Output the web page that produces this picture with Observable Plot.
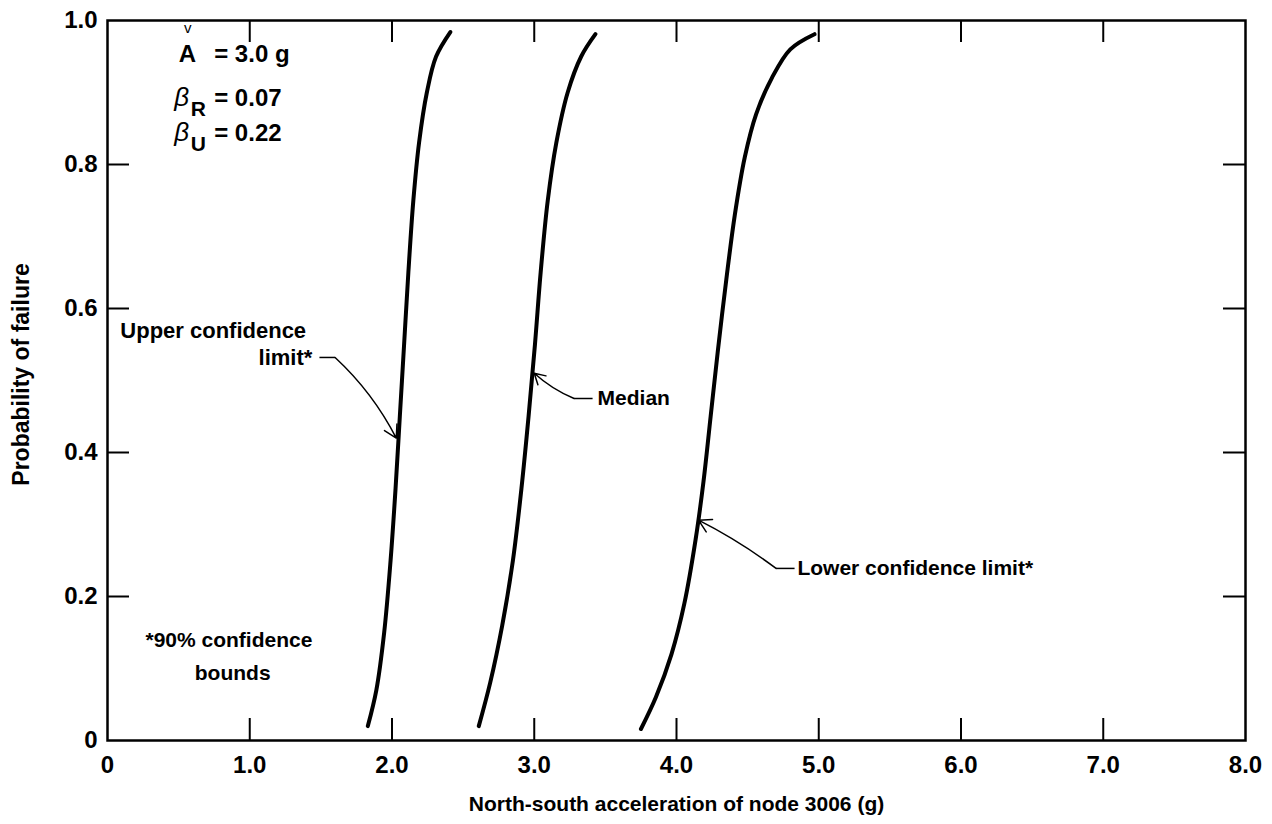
<!DOCTYPE html>
<html>
<head>
<meta charset="utf-8">
<script src="https://cdn.jsdelivr.net/npm/d3@7"></script>
<script src="https://cdn.jsdelivr.net/npm/@observablehq/plot@0.6"></script>
<style>
  html, body { margin: 0; padding: 0; background: #fff; }
  #chart { width: 1272px; height: 824px; }
</style>
</head>
<body>
<div id="chart"></div>
<script>
// ---- data ----
const upperX  = [1.83, 1.89, 1.945, 1.99, 2.025, 2.055, 2.085, 2.115, 2.15, 2.19, 2.245, 2.31, 2.41];
const upperP  = [0.02, 0.07, 0.15, 0.25, 0.35, 0.45, 0.55, 0.65, 0.75, 0.83, 0.90, 0.95, 0.984];
const medianX = [2.61, 2.69, 2.775, 2.85, 2.91, 2.96, 3.005, 3.045, 3.095, 3.155, 3.235, 3.33, 3.43];
const medianP = [0.02, 0.08, 0.16, 0.25, 0.35, 0.45, 0.55, 0.65, 0.75, 0.83, 0.90, 0.95, 0.981];
const lowerX  = [3.75, 3.855, 3.965, 4.055, 4.135, 4.19, 4.24, 4.29, 4.35, 4.41, 4.48, 4.56, 4.67, 4.80, 4.97];
const lowerP  = [0.016, 0.06, 0.12, 0.19, 0.28, 0.36, 0.45, 0.54, 0.64, 0.73, 0.81, 0.87, 0.92, 0.96, 0.981];

const xTicks = [0, 1, 2, 3, 4, 5, 6, 7, 8];
const yTicks = [0, 0.2, 0.4, 0.6, 0.8, 1.0];
const xInner = [1, 2, 3, 4, 5, 6, 7];
const yInner = [0.2, 0.4, 0.6, 0.8];

const xTitle = "North-south acceleration of node 3006 (g)";
const yTitle = "Probability of failure";

const toRows = (xs, ps, name) => xs.map((x, i) => ({x, p: ps[i], name}));
const curves = [
  ...toRows(upperX, upperP, "Upper confidence limit"),
  ...toRows(medianX, medianP, "Median"),
  ...toRows(lowerX, lowerP, "Lower confidence limit")
];

const W = 1272, H = 824;
const mL = 107, mR = 27, mT = 20, mB = 84;
const plotW = W - mL - mR, plotH = H - mT - mB;
const tick = 22;
const fmt = d => d === 0 ? "0" : d.toFixed(1);
const font = "Liberation Sans, Arial, Helvetica, sans-serif";

const chart = Plot.plot({
  width: W, height: H,
  marginLeft: mL, marginRight: mR, marginTop: mT, marginBottom: mB,
  style: {fontFamily: font, fontSize: "21px", fontWeight: "bold", color: "#000", background: "#fff"},
  x: {domain: [0, 8], axis: null},
  y: {domain: [0, 1], axis: null},
  marks: [
    // tick labels
    Plot.axisX(xTicks, {tickSize: 0, tickPadding: 15, tickFormat: fmt, label: null, fontSize: 24}),
    Plot.axisY(yTicks, {tickSize: 0, tickPadding: 10, tickFormat: fmt, label: null, fontSize: 24}),
    // inward ticks on all four sides
    Plot.ruleX(xInner, {insetBottom: plotH - tick, stroke: "#000", strokeWidth: 2}),
    Plot.ruleX(xInner, {insetTop: plotH - tick, stroke: "#000", strokeWidth: 2}),
    Plot.ruleY(yInner, {insetRight: plotW - tick, stroke: "#000", strokeWidth: 2}),
    Plot.ruleY(yInner, {insetLeft: plotW - tick, stroke: "#000", strokeWidth: 2}),
    Plot.frame({stroke: "#000", strokeWidth: 2.5}),
    // curves
    Plot.line(curves, {x: "x", y: "p", z: "name", stroke: "#000", strokeWidth: 4, curve: "catmull-rom", strokeLinecap: "round"}),
    // axis titles
    Plot.text([xTitle], {frameAnchor: "bottom", dy: 70, fontSize: 21}),
    Plot.text([yTitle], {frameAnchor: "left", dx: -86, dy: -6, rotate: -90, textAnchor: "middle", fontSize: 23}),
    // parameter block
    Plot.text(["v"], {x: 0.565, y: 0.99, textAnchor: "middle", fontSize: 15, fontWeight: "normal"}),
    Plot.text(["A"], {x: 0.50, y: 0.953, textAnchor: "start", fontSize: 24}),
    Plot.text(["= 3.0 g"], {x: 0.75, y: 0.953, textAnchor: "start", fontSize: 24}),
    Plot.text(["β"], {x: 0.47, y: 0.893, textAnchor: "start", fontStyle: "italic", fontWeight: "normal", fontSize: 26}),
    Plot.text(["R"], {x: 0.585, y: 0.877, textAnchor: "start", fontSize: 21}),
    Plot.text(["= 0.07"], {x: 0.75, y: 0.892, textAnchor: "start", fontSize: 24}),
    Plot.text(["β"], {x: 0.47, y: 0.844, textAnchor: "start", fontStyle: "italic", fontWeight: "normal", fontSize: 26}),
    Plot.text(["U"], {x: 0.585, y: 0.828, textAnchor: "start", fontSize: 21}),
    Plot.text(["= 0.22"], {x: 0.75, y: 0.843, textAnchor: "start", fontSize: 24}),
    // annotations
    Plot.text(["Upper confidence"], {x: 0.09, y: 0.569, textAnchor: "start", fontSize: 22}),
    Plot.text(["limit*"], {x: 1.44, y: 0.532, textAnchor: "end", fontSize: 22}),
    Plot.link([0], {x1: 1.49, y1: 0.532, x2: 1.6, y2: 0.532, stroke: "#000", strokeWidth: 1.5}),
    Plot.arrow([0], {x1: 1.6, y1: 0.532, x2: 2.03, y2: 0.42, bend: 10, stroke: "#000", strokeWidth: 1.5, headLength: 14}),
    Plot.text(["Median"], {x: 3.445, y: 0.475, textAnchor: "start"}),
    Plot.link([0], {x1: 3.41, y1: 0.475, x2: 3.28, y2: 0.475, stroke: "#000", strokeWidth: 1.5}),
    Plot.arrow([0], {x1: 3.28, y1: 0.475, x2: 3.0, y2: 0.51, bend: 10, stroke: "#000", strokeWidth: 1.5, headLength: 12}),
    Plot.text(["Lower confidence limit*"], {x: 4.85, y: 0.239, textAnchor: "start"}),
    Plot.link([0], {x1: 4.83, y1: 0.239, x2: 4.70, y2: 0.239, stroke: "#000", strokeWidth: 1.5}),
    Plot.arrow([0], {x1: 4.70, y1: 0.239, x2: 4.155, y2: 0.306, bend: -5, stroke: "#000", strokeWidth: 1.5, headLength: 14}),
    Plot.text(["*90% confidence"], {x: 0.267, y: 0.139, textAnchor: "start"}),
    Plot.text(["bounds"], {x: 0.88, y: 0.094})
  ]
});
document.getElementById("chart").appendChild(chart);
</script>
</body>
</html>
